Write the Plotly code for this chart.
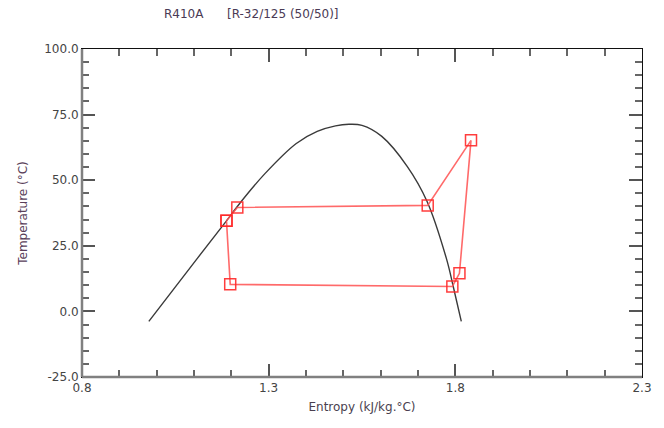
import plotly.graph_objects as go

# Saturation dome
dome_s = [0.979, 1.111, 1.187, 1.216, 1.290, 1.374, 1.430, 1.479, 1.515, 1.550, 1.603, 1.671, 1.724, 1.776, 1.795, 1.816]
dome_t = [-3.8, 20.6, 34.5, 40.0, 52.5, 64.0, 68.6, 70.7, 71.3, 70.9, 66.7, 55.3, 42.0, 20.2, 9.1, -3.8]

# Refrigeration cycle state points
cycle_s = [1.187, 1.197, 1.792, 1.811, 1.842, 1.726, 1.216, 1.187]
cycle_t = [34.5, 10.3, 9.5, 14.5, 65.2, 40.4, 39.6, 34.5]

x_ticks = [0.8, 1.3, 1.8, 2.3]
y_ticks = [-25.0, 0.0, 25.0, 50.0, 75.0, 100.0]

font = "DejaVu Sans, Verdana, sans-serif"

fig = go.Figure()
fig.add_trace(go.Scatter(x=dome_s, y=dome_t, mode="lines", line=dict(color="#3a3a3a", width=1.4, shape="spline", smoothing=1.0),
                         hoverinfo="skip", showlegend=False))
fig.add_trace(go.Scatter(x=cycle_s, y=cycle_t, mode="lines+markers",
                         line=dict(color="rgba(255,80,80,0.85)", width=1.6),
                         marker=dict(symbol="square-open", size=11, color="rgba(255,40,40,0.9)", line=dict(width=1.5)),
                         showlegend=False))

axis_common = dict(
    showgrid=False, zeroline=False, showline=True, linecolor="#111111", linewidth=1,
    mirror="ticks", ticks="inside", ticklen=13, tickwidth=2, tickcolor="#555555",
    tickfont=dict(family=font, size=12, color="#444444"),
)
fig.update_xaxes(range=[0.8, 2.3], tickvals=x_ticks, ticktext=[f"{v:.1f}" for v in x_ticks],
                 minor=dict(dtick=0.1, tick0=0.8, ticks="inside", ticklen=7, tickwidth=1.5, tickcolor="#666666"),
                 title=dict(text="Entropy (kJ/kg.°C)", font=dict(family=font, size=12, color="#4a3f4f"), standoff=8),
                 **axis_common)
fig.update_yaxes(range=[-25, 100], tickvals=y_ticks, ticktext=[f"{v:.1f}" for v in y_ticks],
                 minor=dict(dtick=5, tick0=0, ticks="inside", ticklen=7, tickwidth=1.5, tickcolor="#666666"),
                 title=dict(text="Temperature (°C)", font=dict(family=font, size=12, color="#5a3f5a"), standoff=14),
                 **axis_common)

# heavier gray left and bottom axis lines
fig.add_shape(type="line", xref="paper", yref="paper", x0=0, x1=0, y0=0, y1=1, line=dict(color="#808080", width=2.5))
fig.add_shape(type="line", xref="paper", yref="paper", x0=0, x1=1, y0=0, y1=0, line=dict(color="#808080", width=2.5))

fig.add_annotation(text="R410A", xref="paper", yref="paper", x=(163 - 82) / 570, y=1.0, yshift=35,
                   xanchor="left", yanchor="middle", showarrow=False,
                   font=dict(family=font, size=12, color="#4a3a55"))
fig.add_annotation(text="[R-32/125 (50/50)]", xref="paper", yref="paper", x=(228 - 82) / 570, y=1.0, yshift=35,
                   xanchor="left", yanchor="middle", showarrow=False,
                   font=dict(family=font, size=12, color="#4a3a55"))

fig.update_layout(width=664, height=428, margin=dict(l=82, r=12, t=49, b=51),
                  plot_bgcolor="white", paper_bgcolor="white")
fig.write_html("out.html")
